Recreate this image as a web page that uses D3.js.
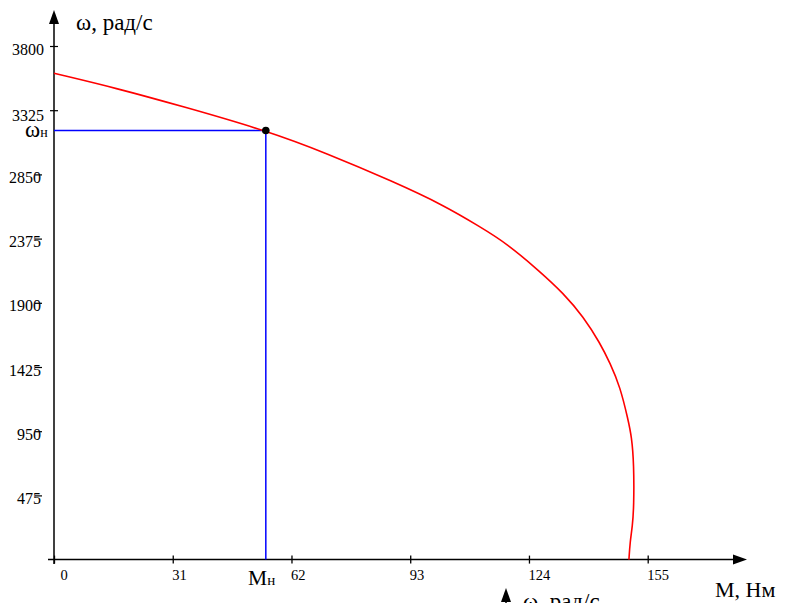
<!DOCTYPE html>
<html>
<head>
<meta charset="utf-8">
<script src="https://cdn.jsdelivr.net/npm/d3@7"></script>
<style>
  html, body { margin: 0; padding: 0; background: #fff; }
  svg { display: block; }
  svg text { font-family: "Liberation Serif", "Times New Roman", serif; }
</style>
</head>
<body>
<svg id="chart" width="787" height="603"></svg>
<script>
// Mechanical characteristic ω(M) of the motor
const torque = [0, 16.4, 33.8, 55.3, 71.2, 88.6, 101.6, 111.2, 118.2, 126.9, 133.0, 138.2, 142.6, 145.2, 147.8, 149.9, 150.8, 151.4, 151.4, 151.0, 150.4, 150.1];
const speed  = [3598, 3487, 3351, 3175, 3006, 2796, 2624, 2463, 2340, 2130, 1970, 1797, 1600, 1452, 1279, 1033, 909, 712, 391, 243, 132, 0];

// Rated operating point
const ratedTorque = 55.3;
const ratedSpeed = 3175;

// Tick values
const xTicks = [0, 31, 62, 93, 124, 155];
const yTicks = [475, 950, 1425, 1900, 2375, 2850, 3325, 3800];

const serif = '"Liberation Serif", "Times New Roman", serif';
const svg = d3.select("#chart");

const x = d3.scaleLinear().domain([0, 155]).range([54, 647.7]);
const y = d3.scaleLinear().domain([0, 3800]).range([559.6, 46]);

const x0 = x(0), y0 = y(0);

// ---- axes lines with arrowheads ----
svg.append("line")
  .attr("x1", x0).attr("x2", x0)
  .attr("y1", 564).attr("y2", 20)
  .attr("stroke", "#000").attr("stroke-width", 1.5);
svg.append("path")
  .attr("d", `M${x0},10 L${x0 - 5},24 L${x0 + 5},24 Z`)
  .attr("fill", "#000");

svg.append("line")
  .attr("x1", 48).attr("x2", 737)
  .attr("y1", y0).attr("y2", y0)
  .attr("stroke", "#000").attr("stroke-width", 1.5);
svg.append("path")
  .attr("d", `M747,${y0} L733,${y0 - 5} L733,${y0 + 5} Z`)
  .attr("fill", "#000");

// ---- x axis ticks and labels ----
const gx = svg.append("g")
  .attr("transform", `translate(0,${y0})`)
  .call(d3.axisBottom(x).tickValues(xTicks).tickSizeOuter(0).tickFormat(d3.format("d")))
  .attr("font-family", null);
gx.select(".domain").remove();
gx.selectAll(".tick line")
  .attr("y1", -4).attr("y2", 4)
  .attr("stroke", "#000").attr("stroke-width", 1.3);
gx.selectAll(".tick text")
  .style("font-family", serif)
  .style("font-size", "14.5px")
  .attr("fill", "#000")
  .attr("text-anchor", "start")
  .attr("dy", null)
  .attr("y", 20.5)
  .attr("x", d => d === 0 ? 6 : -1);

// ---- y axis ticks and labels ----
const gy = svg.append("g")
  .attr("transform", `translate(${x0},0)`)
  .call(d3.axisLeft(y).tickValues(yTicks).tickSizeOuter(0).tickFormat(d3.format("d")))
  .attr("font-family", null);
gy.select(".domain").remove();
gy.selectAll(".tick line")
  .attr("x1", d => d >= 3325 ? -4 : -19)
  .attr("x2", d => d >= 3325 ? 4 : -12)
  .attr("stroke", "#000").attr("stroke-width", 1.2);
gy.selectAll(".tick text")
  .style("font-family", serif)
  .style("font-size", "16px")
  .attr("fill", "#000")
  .attr("text-anchor", "end")
  .attr("dy", null)
  .attr("y", d => d === 3325 ? 10 : 8)
  .attr("x", d => d >= 3325 ? -10 : -13);

// ---- rated point guides ----
svg.append("line")
  .attr("x1", x0).attr("x2", x(ratedTorque))
  .attr("y1", y(ratedSpeed)).attr("y2", y(ratedSpeed))
  .attr("stroke", "#0000ff").attr("stroke-width", 1.5);
svg.append("line")
  .attr("x1", x(ratedTorque)).attr("x2", x(ratedTorque))
  .attr("y1", y(ratedSpeed)).attr("y2", y0)
  .attr("stroke", "#0000ff").attr("stroke-width", 1.5);

// ---- characteristic curve ----
const pts = torque.map((m, i) => [m, speed[i]]);
const line = d3.line()
  .x(d => x(d[0]))
  .y(d => y(d[1]))
  .curve(d3.curveBasis);
svg.append("path")
  .datum(pts)
  .attr("d", line)
  .attr("fill", "none")
  .attr("stroke", "#ff0000")
  .attr("stroke-width", 1.6);

// rated point marker
svg.append("circle")
  .attr("cx", x(ratedTorque)).attr("cy", y(ratedSpeed))
  .attr("r", 3.8).attr("fill", "#000");

// ---- labels ----
svg.append("text")
  .attr("x", 76).attr("y", 30)
  .style("font-size", "23px").attr("fill", "#000")
  .text("ω, рад/с");

const wn = svg.append("text")
  .attr("x", 25).attr("y", y(ratedSpeed) + 6.5)
  .attr("fill", "#000");
wn.append("tspan").style("font-size", "23px").text("ω");
wn.append("tspan").style("font-size", "14px").text("н");

const mn = svg.append("text")
  .attr("x", 248).attr("y", 585)
  .attr("fill", "#000");
mn.append("tspan").style("font-size", "21.5px").text("M");
mn.append("tspan").style("font-size", "15px").text("н");

svg.append("text")
  .attr("x", 715).attr("y", 596.5)
  .style("font-size", "22px").attr("fill", "#000")
  .text("M, Нм");

// ---- top of the following chart's vertical axis ----
svg.append("path")
  .attr("d", "M506,588 L501,602 L511,602 Z")
  .attr("fill", "#000");
svg.append("line")
  .attr("x1", 506).attr("x2", 506)
  .attr("y1", 600).attr("y2", 610)
  .attr("stroke", "#000").attr("stroke-width", 1.5);
svg.append("text")
  .attr("x", 523).attr("y", 609)
  .style("font-size", "23px").attr("fill", "#000")
  .text("ω, рад/с");
</script>
</body>
</html>
